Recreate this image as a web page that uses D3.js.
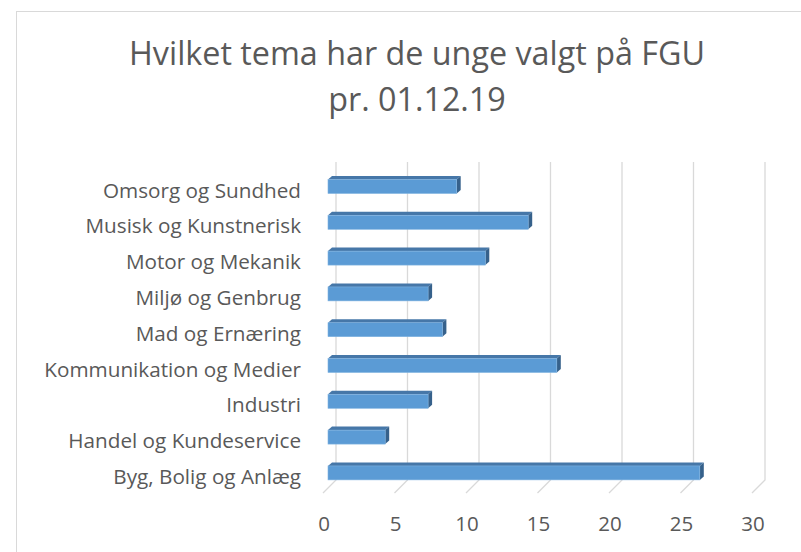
<!DOCTYPE html>
<html>
<head>
<meta charset="utf-8">
<script src="https://cdn.jsdelivr.net/npm/d3@7"></script>
<style>
  body { margin: 0; background: #fff; }
  svg { display: block; font-family: "Open Sans", sans-serif; }
</style>
</head>
<body>
<svg width="801" height="552"></svg>
<script>
// data, top row first
var categories = ["Omsorg og Sundhed", "Musisk og Kunstnerisk", "Motor og Mekanik", "Miljø og Genbrug",
  "Mad og Ernæring", "Kommunikation og Medier", "Industri", "Handel og Kundeservice", "Byg, Bolig og Anlæg"]
var values = [9, 14, 11, 7, 8, 16, 7, 4, 26]
var ticks = [0, 5, 10, 15, 20, 25, 30]
var titleLines = ["Hvilket tema har de unge valgt på FGU", "pr. 01.12.19"]

var svg = d3.select("svg")
var textColor = "#595959"
var gridColor = "#d9d9d9"
var depth = 13        // floor depth (back wall offset)
var barDepth = {x: 4, y: 3.5}
var barShift = 5      // bars sit a little behind the front edge
var wallTop = 162, wallBottom = 480

// chart frame
svg.append("rect")
  .attr("x", 16.5).attr("y", 11.5)
  .attr("width", 900).attr("height", 900)
  .attr("fill", "none").attr("stroke", gridColor)

svg.append("g").selectAll("text")
  .data(titleLines)
  .join("text")
  .attr("x", 417)
  .attr("y", (d, i) => 65 + i * 46)
  .attr("text-anchor", "middle")
  .attr("fill", textColor)
  .style("font-size", "32.3px")
  .text(d => d)

var x = d3.scaleLinear().domain([0, 30]).range([323, 752])
var y = d3.scaleBand().domain(categories)
  .range([168.6, 490.8]).paddingInner(0.61).paddingOuter(0.305)

// gridlines: back wall + floor diagonal
svg.append("g")
  .attr("fill", "none")
  .attr("stroke", gridColor)
  .attr("stroke-width", 1.3)
  .selectAll("path")
  .data(ticks)
  .join("path")
  .attr("d", d => `M${x(d) + depth},${wallTop}V${wallBottom}L${x(d)},${wallBottom + depth}`)

// tick labels
svg.append("g").selectAll("text")
  .data(ticks)
  .join("text")
  .attr("x", d => x(d) + 1)
  .attr("y", 531)
  .attr("text-anchor", "middle")
  .attr("fill", textColor)
  .style("font-size", "20.5px")
  .text(d => d)

// category labels
svg.append("g").selectAll("text")
  .data(categories)
  .join("text")
  .attr("x", 301)
  .attr("y", d => y(d) + y.bandwidth() / 2 + 11)
  .attr("text-anchor", "end")
  .attr("fill", textColor)
  .style("font-size", "20.7px")
  .text(d => d)

// 3d bars
var bars = svg.append("g").selectAll("g")
  .data(categories.map((c, i) => ({name: c, value: values[i]})))
  .join("g")

var x0 = d => x(0) + barShift
var x1 = d => x(d.value) + barShift
var h = y.bandwidth()

bars.append("path") // top face
  .attr("fill", "#4677a8")
  .attr("d", d => {
    var yt = y(d.name)
    return `M${x0(d)},${yt}L${x0(d) + barDepth.x},${yt - barDepth.y}L${x1(d) + barDepth.x},${yt - barDepth.y}L${x1(d)},${yt}Z`
  })
bars.append("path") // side face
  .attr("fill", "#36618b")
  .attr("d", d => {
    var yt = y(d.name)
    return `M${x1(d)},${yt}L${x1(d) + barDepth.x},${yt - barDepth.y}L${x1(d) + barDepth.x},${yt + h - barDepth.y}L${x1(d)},${yt + h}Z`
  })
bars.append("rect") // front face
  .attr("x", x0)
  .attr("y", d => y(d.name))
  .attr("width", d => x1(d) - x0(d))
  .attr("height", h)
  .attr("fill", "#5b9bd5")
  .attr("stroke", "#7fb2e0")
  .attr("stroke-width", 0.6)
</script>
</body>
</html>
